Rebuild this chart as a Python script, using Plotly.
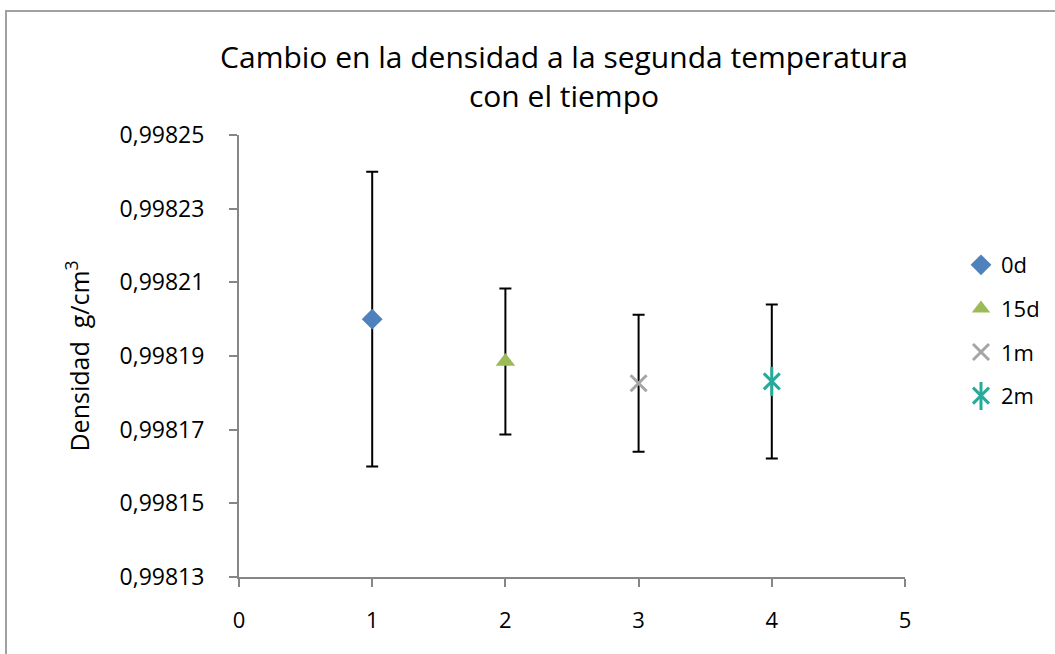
import plotly.graph_objects as go

# Density at the second temperature over storage time
series_names = ["0d", "15d", "1m", "2m"]
time_index = [1, 2, 3, 4]
density = [0.9982000, 0.9981885, 0.9981826, 0.9981831]
density_err = [0.0000400, 0.0000198, 0.0000186, 0.0000209]

y_ticks = [0.99813, 0.99815, 0.99817, 0.99819, 0.99821, 0.99823, 0.99825]
x_ticks = [0, 1, 2, 3, 4, 5]

FONT = "Open Sans"
AXIS_GREY = "#868686"
TEAL = "#26AA9B"

# plot area in pixels (used to place the frame and the legend star stroke)
PLOT_L, PLOT_R, PLOT_T, PLOT_B = 239, 905, 135, 577
PW, PH = PLOT_R - PLOT_L, PLOT_B - PLOT_T

styles = {
    "0d": dict(symbol="diamond", size=16, color="#4F81BD", line=dict(width=0)),
    "15d": dict(symbol="triangle-up", size=17, color="#9BBB59", line=dict(width=0)),
    "1m": dict(symbol="x-thin-open", size=16, color="#A5A5A5",
               line=dict(width=3, color="#A5A5A5")),
    "2m": dict(symbol="x-thin-open", size=16, color=TEAL,
               line=dict(width=3, color=TEAL)),
}

fig = go.Figure()
for i, name in enumerate(series_names):
    fig.add_trace(go.Scatter(
        x=[time_index[i]], y=[density[i]], name=name, mode="markers",
        legendgroup=name,
        marker=styles[name],
        error_y=dict(type="data", array=[density_err[i]], visible=True,
                     color="black", thickness=2, width=6),
    ))

# vertical stroke that completes the star marker of the 2m series
fig.add_trace(go.Scatter(
    x=[time_index[3]], y=[density[3]], mode="markers", showlegend=False,
    hoverinfo="skip",
    marker=dict(symbol="line-ns-open", size=21, color=TEAL,
                line=dict(width=3, color=TEAL)),
))

fig.update_layout(
    width=1055, height=654,
    margin=dict(l=PLOT_L, r=1055 - PLOT_R, t=PLOT_T, b=654 - PLOT_B),
    paper_bgcolor="white", plot_bgcolor="white",
    separators=",.",
    font=dict(family=FONT, size=22, color="black"),
    title=dict(
        text="Cambio en la densidad a la segunda temperatura<br>con el tiempo",
        x=564 / 1055, xanchor="center", y=1 - 68 / 654, yanchor="middle",
        font=dict(family=FONT, size=30, color="black"),
    ),
    showlegend=True,
    legend=dict(
        xref="container", yref="container",
        x=961 / 1055, xanchor="left", y=1 - 244 / 654, yanchor="top",
        bgcolor="rgba(0,0,0,0)", tracegroupgap=12,
        font=dict(family=FONT, size=22, color="black"),
    ),
    xaxis=dict(
        range=[0, 5], tickvals=x_ticks, ticks="outside", ticklen=8,
        tickcolor=AXIS_GREY, tickwidth=2, showline=True, linecolor=AXIS_GREY,
        linewidth=2, showgrid=False, zeroline=False, ticklabelstandoff=15,
        tickfont=dict(family=FONT, size=22),
    ),
    yaxis=dict(
        range=[0.99813, 0.99825], tickvals=y_ticks, tickformat=".5f",
        ticks="outside", ticklen=8, tickcolor=AXIS_GREY, tickwidth=2,
        showline=True, linecolor=AXIS_GREY, linewidth=2, showgrid=False,
        zeroline=False, ticklabelstandoff=20, tickfont=dict(family=FONT, size=23),
        title=dict(text="Densidad  g/cm<sup>3</sup>", standoff=23,
                   font=dict(family=FONT, size=25)),
    ),
    shapes=[
        # chart frame
        dict(type="rect", xref="paper", yref="paper", layer="below",
             x0=(6 - PLOT_L) / PW, x1=2.0, y0=-1.0, y1=(PLOT_B - 11) / PH,
             line=dict(color="#A0A0A0", width=2)),
        # vertical stroke of the 2m star in the legend
        dict(type="line", xref="paper", yref="paper", layer="above",
             x0=(981 - PLOT_L) / PW, x1=(981 - PLOT_L) / PW,
             y0=(PLOT_B - 410) / PH, y1=(PLOT_B - 382) / PH,
             line=dict(color=TEAL, width=3)),
    ],
)

fig.write_html("out.html")
